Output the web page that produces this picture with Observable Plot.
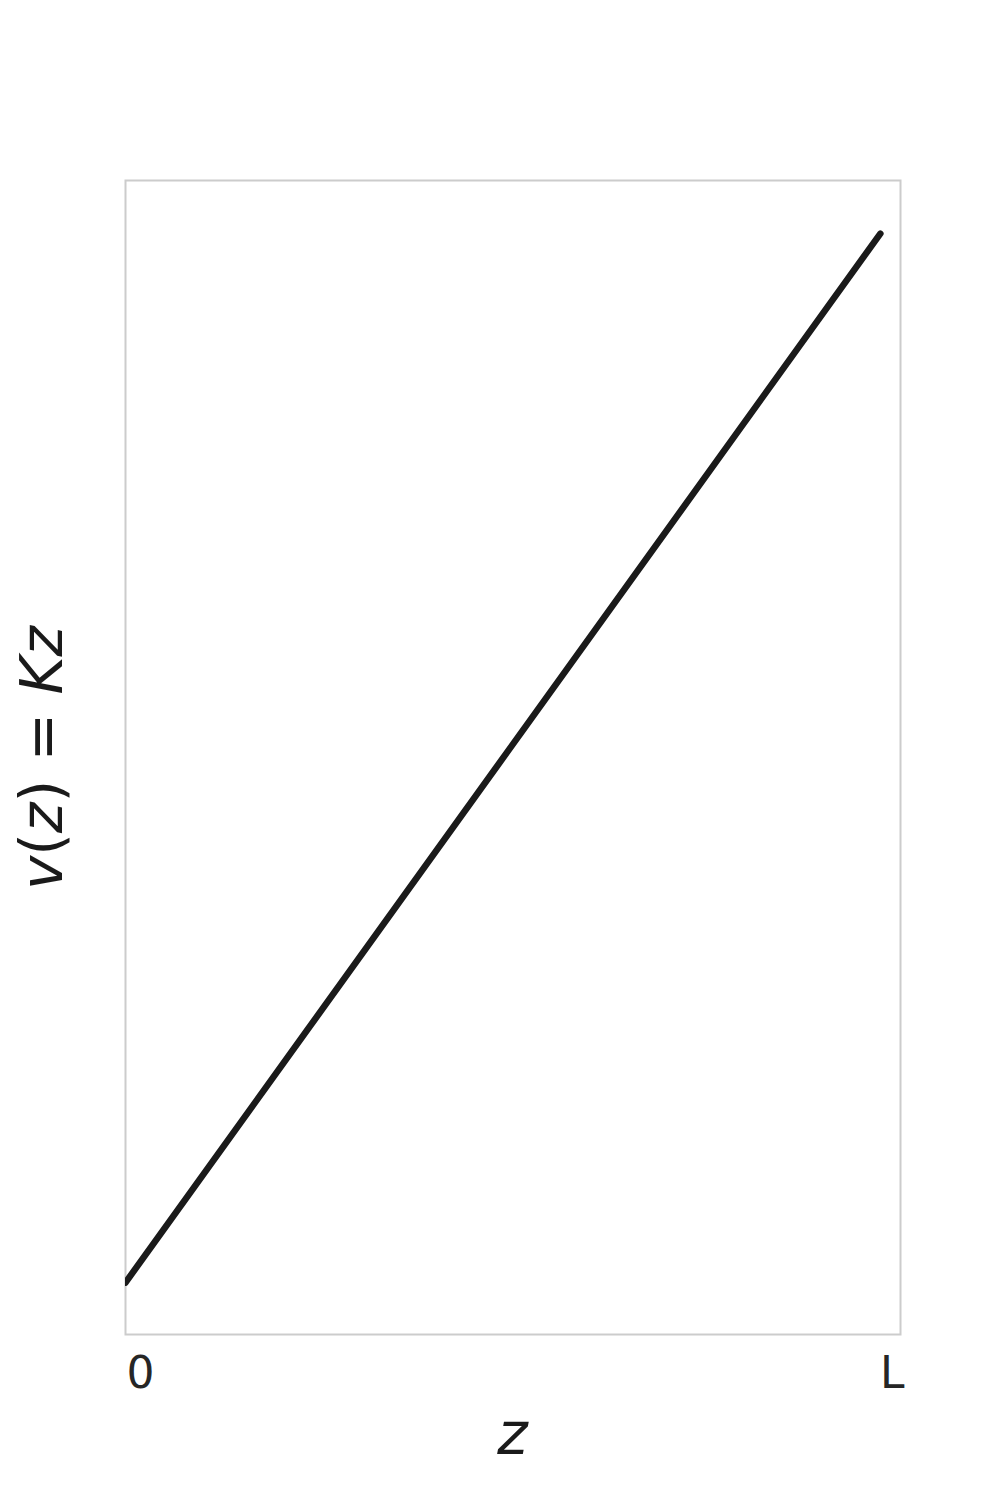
<!DOCTYPE html>
<html>
<head>
<meta charset="utf-8">
<script src="https://cdn.jsdelivr.net/npm/d3@7"></script>
<script src="https://cdn.jsdelivr.net/npm/@observablehq/plot@0.6"></script>
<style>
  html, body { margin: 0; padding: 0; background: #fff; }
  svg { display: block; }
</style>
</head>
<body>
<div id="chart"></div>
<script>
// Data (z in units of L, v in relative units)
const zValues = [0, 0.974];
const vValues = [0.045, 0.954];
const tickValues = [0, 1];
const tickLabels = ["0", "L"];

const lineData = zValues.map((z, i) => ({ z, v: vValues[i] }));
const tickData = tickValues.map((t, i) => ({ t, label: tickLabels[i] }));

const FONT = "DejaVu Sans";
const plot = Plot.plot({
  width: 1000,
  height: 1500,
  marginLeft: 125,
  marginRight: 100,
  marginTop: 180,
  marginBottom: 166,
  style: { fontFamily: FONT, background: "#fff" },
  x: { domain: [0, 1], axis: null },
  y: { domain: [0, 1], axis: null },
  marks: [
    Plot.frame({ stroke: "#cccccc", strokeWidth: 2 }),
    Plot.line(lineData, {
      x: "z", y: "v",
      stroke: "#1a1a1a", strokeWidth: 6.5,
      strokeLinecap: "round", clip: true
    }),
    Plot.text(tickData.filter((d, i) => i === 0), {
      x: "t", text: "label", frameAnchor: "bottom",
      textAnchor: "start", dx: 1, dy: 53, fontSize: 44, fill: "#262626",
      lineAnchor: "bottom"
    }),
    Plot.text(tickData.filter((d, i) => i === 1), {
      x: "t", text: "label", frameAnchor: "bottom",
      textAnchor: "end", dx: 4, dy: 53, fontSize: 44, fill: "#262626",
      lineAnchor: "bottom"
    })
  ]
});

document.getElementById("chart").appendChild(plot);

// Axis labels with math-style italics (v, z, K italic; parens and = upright)
const svg = d3.select(plot);
function addMath(g, parts) {
  parts.forEach(([s, italic]) => {
    g.append("tspan").attr("font-style", italic ? "italic" : "normal").text(s);
  });
}
const xl = svg.append("text")
  .attr("x", 512.5).attr("y", 1454)
  .attr("text-anchor", "middle")
  .attr("font-family", FONT).attr("font-size", 58).attr("fill", "#1a1a1a");
addMath(xl, [["z", true]]);

const yl = svg.append("text")
  .attr("transform", "translate(62,758) rotate(-90)")
  .attr("text-anchor", "middle")
  .attr("font-family", FONT).attr("font-size", 58).attr("fill", "#1a1a1a");
addMath(yl, [["v", true], ["(", false], ["z", true], [")", false], [" = ", false], ["Kz", true]]);
</script>
</body>
</html>
